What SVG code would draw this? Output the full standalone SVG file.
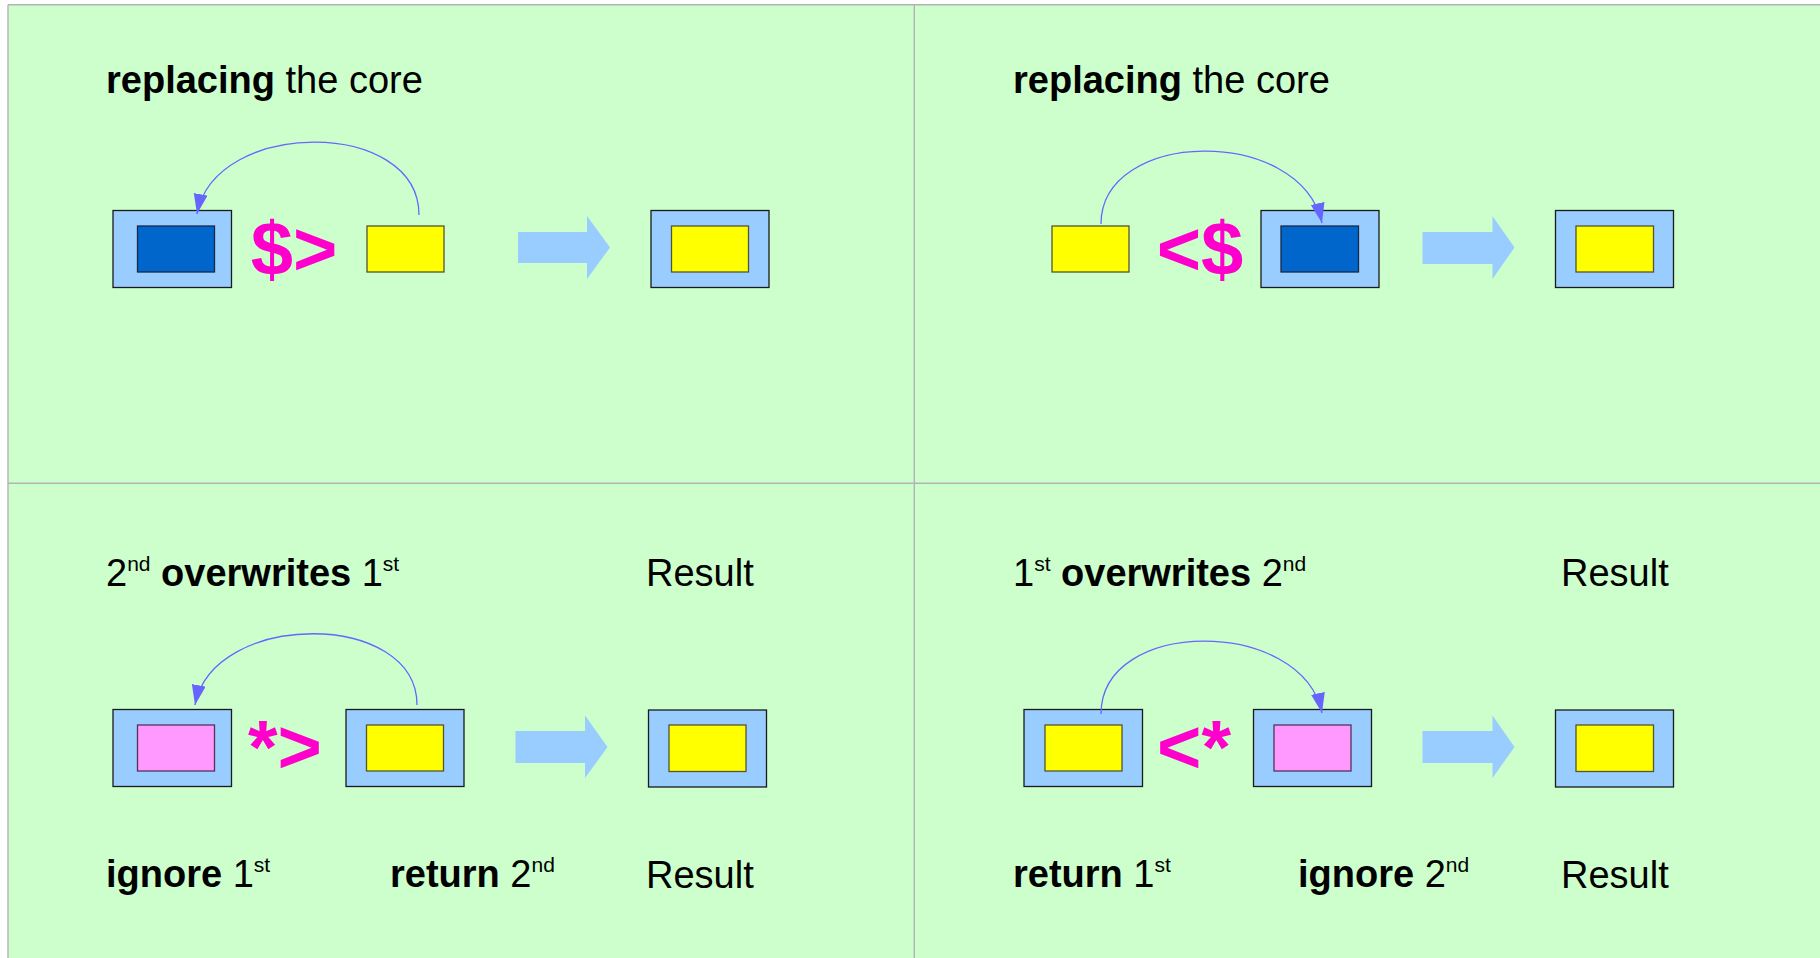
<svg xmlns="http://www.w3.org/2000/svg" width="1820" height="958" viewBox="0 0 1820 958">
<defs>
<style>
.grid{stroke:#b3b3b3;stroke-width:1.4;fill:none}
.outer{fill:#99ccff;stroke:#1a1a1a;stroke-width:1.3}
.blue{fill:#0066cc;stroke:#1a2a44;stroke-width:1.3}
.yel{fill:#ffff00;stroke:#555533;stroke-width:1.3}
.pink{fill:#ff99ff;stroke:#553355;stroke-width:1.3}
.bigarrow{fill:#99ccff}
.op{font-family:"Liberation Sans",Arial,sans-serif;font-weight:bold;font-size:76px;fill:#ff00cc;text-anchor:middle}
.t{font-family:"Liberation Sans",Arial,sans-serif;font-size:38px;fill:#000}
.b{font-weight:bold}
.sup{font-size:21px}
.arc{fill:none;stroke:#6666ff;stroke-width:1.3;marker-end:url(#ah)}
</style>
<marker id="ah" markerUnits="userSpaceOnUse" markerWidth="22" markerHeight="16" refX="20" refY="7" orient="auto" viewBox="0 0 22 16">
<path d="M0,0 L20,7 L0,14 z" fill="#6666ff"/>
</marker>
</defs>
<rect x="0" y="0" width="1820" height="958" fill="#ffffff"/>
<rect x="8" y="5" width="1812" height="953" fill="#ccffcc"/>
<g id="table">
<line class="grid" x1="8" y1="4.7" x2="1820" y2="4.7"/>
<line class="grid" x1="8" y1="4.7" x2="8" y2="958"/>
<line class="grid" x1="914.3" y1="4.7" x2="914.3" y2="958"/>
<line class="grid" x1="8" y1="483.3" x2="1820" y2="483.3"/>
</g>

<!-- Top-left panel -->
<g id="title-tl"><text class="t" x="106" y="93"><tspan class="b">replacing</tspan> the core</text></g>
<g id="tl-box1"><rect class="outer" x="113" y="210.5" width="118.5" height="77"/><rect class="blue" x="137.5" y="226" width="77" height="46"/></g>
<g id="tl-op"><text class="op" x="294" y="275">$&gt;</text></g>
<g id="tl-yellow"><rect class="yel" x="367" y="226" width="77" height="46"/></g>
<g id="tl-arrow"><polygon class="bigarrow" points="518,232 587,232 587,216 610,247.5 587,279 587,263 518,263"/></g>
<g id="tl-result"><rect class="outer" x="651" y="210.5" width="118" height="77"/><rect class="yel" x="671.5" y="226" width="77" height="46"/></g>

<!-- Top-right panel -->
<g id="title-tr"><text class="t" x="1013" y="93"><tspan class="b">replacing</tspan> the core</text></g>
<g id="tr-yellow"><rect class="yel" x="1052" y="226" width="77" height="46"/></g>
<g id="tr-op"><text class="op" x="1200" y="275">&lt;$</text></g>
<g id="tr-box"><rect class="outer" x="1261" y="210.5" width="118" height="77"/><rect class="blue" x="1281" y="226" width="77.5" height="46"/></g>
<g id="tr-arrow"><polygon class="bigarrow" points="1422.5,232 1492.5,232 1492.5,216 1514.5,247.5 1492.5,279 1492.5,264 1422.5,264"/></g>
<g id="tr-result"><rect class="outer" x="1555.5" y="210.5" width="118" height="77"/><rect class="yel" x="1576" y="226" width="77.5" height="46"/></g>

<!-- Bottom-left panel -->
<g id="title-bl"><text class="t" x="106" y="586">2<tspan class="sup" dy="-15">nd</tspan><tspan dy="15" class="b"> overwrites</tspan> 1<tspan class="sup" dy="-15">st</tspan></text></g>
<g id="result-bl-top"><text class="t" x="646" y="586">Result</text></g>
<g id="bl-box1"><rect class="outer" x="113" y="709.5" width="118.5" height="77"/><rect class="pink" x="137.5" y="725" width="77" height="46"/></g>
<g id="bl-op"><text class="op" x="285" y="773">*&gt;</text></g>
<g id="bl-box2"><rect class="outer" x="346" y="709.5" width="118" height="77"/><rect class="yel" x="366.5" y="725" width="77" height="46"/></g>
<g id="bl-arrow"><polygon class="bigarrow" points="515.5,731 585,731 585,715.5 607.5,747 585,778 585,763 515.5,763"/></g>
<g id="bl-result"><rect class="outer" x="648.5" y="710" width="118" height="77"/><rect class="yel" x="669" y="725" width="77" height="46.5"/></g>
<g id="bl-labels"><text class="t" x="106" y="887"><tspan class="b">ignore</tspan> 1<tspan class="sup" dy="-15">st</tspan></text>
<text class="t" x="390" y="887"><tspan class="b">return</tspan> 2<tspan class="sup" dy="-15">nd</tspan></text>
<text class="t" x="646" y="888">Result</text></g>

<!-- Bottom-right panel -->
<g id="title-br"><text class="t" x="1013" y="586">1<tspan class="sup" dy="-15">st</tspan><tspan dy="15" class="b"> overwrites</tspan> 2<tspan class="sup" dy="-15">nd</tspan></text></g>
<g id="result-br-top"><text class="t" x="1561" y="586">Result</text></g>
<g id="br-box1"><rect class="outer" x="1024" y="709.5" width="118.5" height="77"/><rect class="yel" x="1045" y="725" width="77" height="46"/></g>
<g id="br-op"><text class="op" x="1194" y="773">&lt;*</text></g>
<g id="br-box2"><rect class="outer" x="1253.5" y="709.5" width="118" height="77"/><rect class="pink" x="1274" y="725" width="77" height="46"/></g>
<g id="br-arrow"><polygon class="bigarrow" points="1422.5,731 1492.5,731 1492.5,715.5 1514.5,747 1492.5,778 1492.5,763 1422.5,763"/></g>
<g id="br-result"><rect class="outer" x="1555.5" y="710" width="118" height="77"/><rect class="yel" x="1576" y="725" width="77.5" height="46.5"/></g>
<g id="br-labels"><text class="t" x="1013" y="887"><tspan class="b">return</tspan> 1<tspan class="sup" dy="-15">st</tspan></text>
<text class="t" x="1298" y="887"><tspan class="b">ignore</tspan> 2<tspan class="sup" dy="-15">nd</tspan></text>
<text class="t" x="1561" y="888">Result</text></g>

<g id="connectors">
<path class="arc" d="M419,215 C419,118 215,118 197,214"/>
<path class="arc" d="M1101,224 C1101,129 1300,125 1322,223"/>
<path class="arc" d="M417,705 C417,610 213,610 195,705"/>
<path class="arc" d="M1101,714 C1101,617 1302,617 1322,713"/>
</g>
</svg>
